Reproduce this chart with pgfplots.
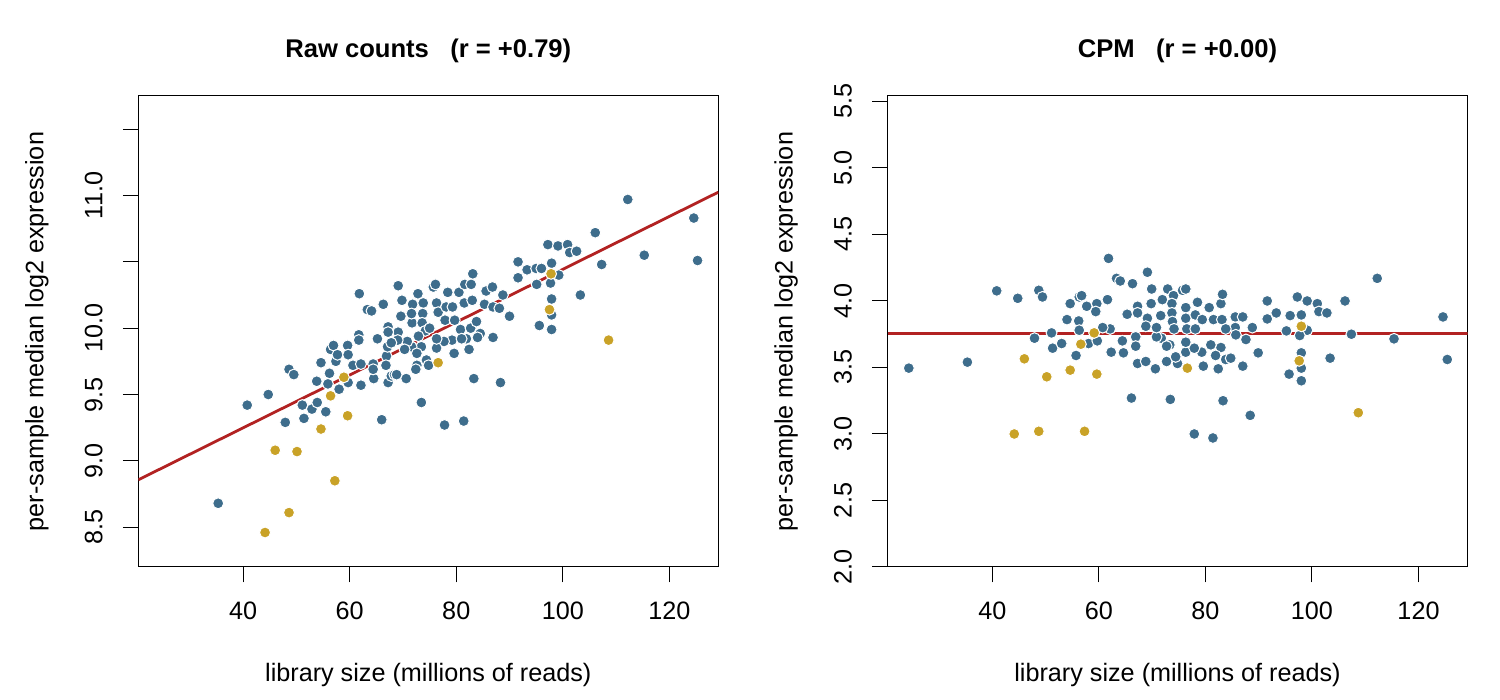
\documentclass[border=0pt]{standalone}
\usepackage{fontspec}
\setmainfont{Liberation Sans}
\usepackage{pgfplots}
\usepackage{pgfplotstable}
\pgfplotsset{compat=1.18}
\definecolor{ptblue}{RGB}{62,109,140}
\definecolor{ptgold}{RGB}{201,162,39}
\definecolor{fitred}{RGB}{178,34,34}

\pgfplotstableread{
x y
35.3 8.68
40.75 9.42
44.7 9.50
47.9 9.29
48.6 9.69
49.5 9.65
51.1 9.42
51.4 9.32
52.9 9.39
53.9 9.44
55.5 9.37
53.8 9.60
54.6 9.74
56.2 9.66
55.9 9.58
58.0 9.54
57.4 9.75
56.4 9.84
56.95 9.87
57.7 9.80
59.6 9.87
59.7 9.80
59.7 9.59
60.6 9.72
62.1 9.73
62.1 9.57
64.4 9.73
64.5 9.62
66.0 9.31
66.9 9.79
67.2 9.59
67.8 9.64
61.8 10.26
63.3 10.14
64.1 10.13
66.3 10.18
69.1 10.32
69.8 10.21
69.6 10.09
71.8 10.18
72.8 10.26
73.8 10.19
73.7 10.11
71.7 10.04
73.6 10.04
75.7 10.31
76.1 10.33
76.3 10.19
76.6 10.12
78.4 10.27
78.1 10.16
77.9 10.06
79.3 10.16
80.5 10.27
81.6 10.33
82.8 10.33
83.1 10.41
81.5 10.19
83.0 10.21
79.7 10.06
80.8 9.99
82.7 10.00
83.8 10.05
84.5 9.96
85.6 10.28
86.8 10.31
85.3 10.18
86.9 10.16
88.75 10.25
90.0 10.09
91.6 10.50
91.6 10.38
93.3 10.44
86.9 9.93
84.0 9.93
81.9 9.92
82.4 9.84
79.6 9.81
79.2 9.91
77.7 9.90
76.3 9.85
76.3 9.92
74.2 9.98
72.9 9.94
73.45 9.86
71.6 9.86
70.8 9.90
69.1 9.97
69.0 9.91
67.2 10.01
67.2 9.97
65.2 9.92
67.1 9.86
66.8 9.72
61.7 9.95
61.7 9.91
64.4 9.69
68.4 9.65
68.8 9.65
70.6 9.62
72.6 9.72
72.4 9.69
74.4 9.76
74.8 9.72
73.45 9.44
77.8 9.27
81.4 9.30
83.3 9.62
88.3 9.59
67.8 9.89
70.3 9.84
72.6 9.81
81.0 9.92
71.6 10.11
75.0 10.00
112.2 10.97
124.6 10.83
125.3 10.51
115.3 10.55
106.1 10.72
97.2 10.63
99.1 10.62
100.9 10.63
101.3 10.57
102.6 10.58
107.3 10.48
97.9 10.49
95.0 10.45
96.0 10.45
99.25 10.40
95.1 10.33
97.7 10.34
88.1 10.15
97.9 10.22
97.9 10.10
103.3 10.25
95.6 10.02
97.9 9.99
}\rawblue

\pgfplotstableread{
x y
44.1 8.46
48.6 8.61
57.2 8.85
46.0 9.08
50.1 9.07
54.6 9.24
59.6 9.34
56.4 9.49
58.9 9.63
76.6 9.74
97.8 10.41
97.5 10.14
108.6 9.91
}\rawgold

\pgfplotstableread{
x y
24.3 3.495
35.3 3.54
40.8 4.076
44.75 4.02
48.7 4.08
49.4 4.03
47.9 3.72
51.1 3.76
51.3 3.645
53.0 3.68
54.0 3.86
54.6 3.98
56.3 4.03
56.75 4.04
56.2 3.85
57.7 3.96
59.6 3.98
59.4 3.92
55.7 3.59
56.3 3.78
58.05 3.68
59.7 3.70
61.8 4.32
69.1 4.216
63.3 4.17
64.0 4.15
66.3 4.13
69.9 4.09
72.9 4.09
74.0 4.04
75.7 4.08
76.3 4.09
71.9 4.01
73.7 3.98
69.8 3.98
67.25 3.96
65.3 3.90
67.25 3.91
69.1 3.87
71.6 3.89
73.7 3.91
73.8 3.845
76.3 3.95
78.5 3.99
80.7 3.95
82.9 3.98
83.2 4.05
76.3 3.87
78.1 3.895
79.4 3.86
81.5 3.86
83.1 3.86
85.6 3.88
87.0 3.88
91.6 4.00
91.6 3.865
93.3 3.91
88.8 3.80
89.9 3.61
87.6 3.71
85.6 3.80
85.7 3.745
83.8 3.79
82.9 3.65
81.0 3.67
81.9 3.59
83.8 3.56
84.75 3.57
82.4 3.49
79.6 3.51
79.3 3.615
76.3 3.615
77.9 3.645
76.3 3.69
76.5 3.79
78.1 3.79
74.1 3.79
73.3 3.67
71.7 3.72
70.8 3.73
70.8 3.80
68.8 3.81
66.9 3.73
66.9 3.66
64.4 3.70
64.6 3.61
62.3 3.615
62.1 3.79
60.7 3.80
61.6 4.01
67.25 3.53
68.8 3.545
70.6 3.49
72.7 3.545
74.75 3.53
74.4 3.58
72.7 3.66
87.0 3.51
66.1 3.27
73.4 3.26
83.3 3.25
88.4 3.14
77.9 3.00
81.4 2.97
112.25 4.17
124.6 3.88
125.4 3.56
115.4 3.715
106.2 4.00
97.25 4.03
99.1 4.00
101.0 3.98
101.3 3.92
102.8 3.91
95.9 3.89
98.0 3.895
95.2 3.775
99.1 3.78
97.7 3.74
107.4 3.75
98.0 3.61
98.0 3.495
98.0 3.40
95.7 3.45
103.4 3.57
}\cpmblue

\pgfplotstableread{
x y
44.1 3.00
48.7 3.02
57.3 3.02
46.0 3.565
50.2 3.43
54.6 3.48
59.6 3.45
56.6 3.675
59.1 3.76
76.6 3.495
98.0 3.81
97.6 3.55
108.7 3.16
}\cpmgold

\pgfplotsset{
  panel/.style={
    scale only axis, width=290pt, height=235.5pt, anchor=south west,
    xmin=20.3, xmax=129.2,
    axis line style={line width=0.5pt, black},
    every tick/.style={line width=0.5pt, black},
    tick align=outside, major tick length=7.7pt,
    xtick pos=bottom, ytick pos=left,
    xtick={40,60,80,100,120}, xticklabels={40,60,80,100,120},
    /pgf/number format/assume math mode=true,
    xticklabel style={anchor=base},
    xticklabel shift=18.7pt,
    yticklabel style={rotate=90, anchor=base},
    yticklabel shift=10.3pt,
    xlabel={library size (millions of reads)},
    ylabel={per-sample median log2 expression},
    xlabel style={at={(axis description cs:0.5,0)}, anchor=base, yshift=-57.3pt},
    ylabel style={at={(axis description cs:-0.1638,0.5)}, anchor=base},
    title style={at={(axis description cs:0.5,1)}, anchor=base, yshift=13pt, font=\fontsize{12.8}{15}\selectfont\bfseries},
  },
  bluepts/.style={only marks, mark=*, mark size=2.75pt, mark options={fill=ptblue, draw=white, line width=0.5pt}},
  goldpts/.style={only marks, mark=*, mark size=2.75pt, mark options={fill=ptgold, draw=white, line width=0.5pt}},
}

\begin{document}
\begin{tikzpicture}[font=\fontsize{12.6}{15}\selectfont]
\path[use as bounding box] (0,0) rectangle (750pt,350pt);
\begin{axis}[panel, at={(69.15pt,66.5pt)},
  ymin=8.20, ymax=11.75,
  ytick={8.5,9,9.5,10,10.5,11,11.5},
  yticklabels={8.5,9.0,9.5,10.0,,11.0,},
  title={Raw counts\ \ \ (r = +0.79)}]
\addplot[bluepts] table[x=x,y=y] {\rawblue};
\addplot[goldpts] table[x=x,y=y] {\rawgold};
\addplot[fitred, line width=1.4pt] coordinates {(20.3,8.857) (129.2,11.025)};
\end{axis}
\begin{axis}[panel, at={(443.75pt,66.5pt)},
  ymin=2.0, ymax=5.541,
  ytick={2,2.5,3,3.5,4,4.5,5,5.5},
  yticklabels={2.0,2.5,3.0,3.5,4.0,4.5,5.0,5.5},
  title={CPM\ \ \ (r = +0.00)}]
\addplot[bluepts] table[x=x,y=y] {\cpmblue};
\addplot[goldpts] table[x=x,y=y] {\cpmgold};
\addplot[fitred, line width=1.4pt] coordinates {(20.3,3.758) (129.2,3.758)};
\end{axis}
\end{tikzpicture}
\end{document}
